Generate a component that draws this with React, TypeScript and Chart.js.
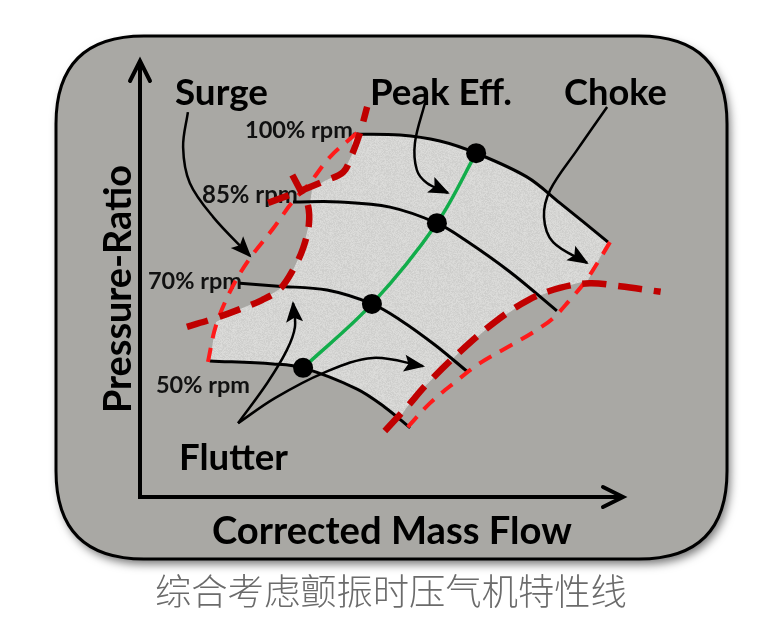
import { useEffect, useRef } from "react";
import { Chart, registerables } from "chart.js";

Chart.register(...registerables);

type P = { x: number; y: number };

// Axes: x = corrected mass flow, y = pressure ratio (both 0..100 of axis length)
const speedLabels = ["100% rpm", "85% rpm", "70% rpm", "50% rpm"];

const speed100: P[] = [
  { x: 44.1, y: 83.3 }, { x: 54.0, y: 83.1 }, { x: 62.3, y: 81.7 }, { x: 69.9, y: 78.9 },
  { x: 80.5, y: 73.4 }, { x: 87.4, y: 67.4 }, { x: 97.5, y: 58.3 },
];
const speed85: P[] = [
  { x: 31.6, y: 67.6 }, { x: 41.4, y: 67.6 }, { x: 51.9, y: 66.4 }, { x: 61.7, y: 62.7 },
  { x: 67.6, y: 58.8 }, { x: 77.0, y: 51.4 }, { x: 86.8, y: 42.4 },
];
const speed70: P[] = [
  { x: 20.5, y: 48.8 }, { x: 28.5, y: 48.1 }, { x: 38.7, y: 47.2 }, { x: 48.1, y: 44.0 },
  { x: 54.0, y: 40.3 }, { x: 61.3, y: 34.5 }, { x: 68.2, y: 28.2 },
];
const speed50: P[] = [
  { x: 14.2, y: 30.8 }, { x: 27.4, y: 30.1 }, { x: 33.7, y: 29.2 }, { x: 45.0, y: 24.3 },
  { x: 50.8, y: 20.1 }, { x: 56.1, y: 15.3 },
];

const peakEfficiency: P[] = [
  { x: 33.7, y: 29.2 }, { x: 48.1, y: 44.0 }, { x: 61.7, y: 62.7 }, { x: 69.9, y: 78.9 },
];

const surgeLine: P[] = [
  { x: 13.8, y: 30.6 }, { x: 15.5, y: 39.1 }, { x: 18.8, y: 47.7 }, { x: 22.6, y: 54.6 },
  { x: 27.2, y: 61.1 }, { x: 31.6, y: 67.8 }, { x: 35.1, y: 72.0 }, { x: 39.3, y: 78.0 },
  { x: 45.0, y: 83.6 },
];
const flutterSurgeLow: P[] = [
  { x: 9.4, y: 38.7 }, { x: 15.3, y: 40.7 }, { x: 20.5, y: 42.8 }, { x: 25.1, y: 44.9 },
  { x: 28.9, y: 47.5 }, { x: 31.8, y: 52.3 }, { x: 33.7, y: 56.9 }, { x: 34.9, y: 62.3 },
  { x: 34.7, y: 66.9 }, { x: 33.1, y: 70.4 }, { x: 30.3, y: 76.2 },
];
const flutterSurgeHigh: P[] = [
  { x: 26.4, y: 67.4 }, { x: 33.7, y: 70.4 }, { x: 38.3, y: 72.5 }, { x: 42.1, y: 74.5 },
  { x: 43.9, y: 78.5 }, { x: 45.6, y: 83.6 }, { x: 47.1, y: 89.6 },
];
const chokeLine: P[] = [
  { x: 97.9, y: 58.3 }, { x: 95.4, y: 53.7 }, { x: 92.7, y: 49.1 }, { x: 89.5, y: 44.9 },
  { x: 86.0, y: 40.7 }, { x: 82.2, y: 37.7 }, { x: 77.0, y: 34.3 }, { x: 70.7, y: 30.3 },
  { x: 65.5, y: 25.9 }, { x: 60.3, y: 21.1 }, { x: 55.6, y: 15.5 },
];
const flutterChoke: P[] = [
  { x: 50.8, y: 14.6 }, { x: 55.4, y: 20.1 }, { x: 59.4, y: 25.2 }, { x: 66.5, y: 32.9 },
  { x: 73.8, y: 39.8 }, { x: 80.8, y: 44.9 }, { x: 87.4, y: 47.7 }, { x: 93.7, y: 48.8 },
  { x: 100, y: 48.1 }, { x: 108.5, y: 46.8 },
];

const operatingRegion: P[] = [
  { x: 44.1, y: 83.3 }, { x: 54.0, y: 83.1 }, { x: 62.3, y: 81.7 }, { x: 69.9, y: 78.9 },
  { x: 80.5, y: 73.4 }, { x: 87.4, y: 67.4 }, { x: 97.5, y: 58.3 }, { x: 93.3, y: 49.5 },
  { x: 87.4, y: 47.7 }, { x: 80.8, y: 44.9 }, { x: 73.8, y: 39.8 }, { x: 66.5, y: 32.9 },
  { x: 59.4, y: 25.2 }, { x: 55.4, y: 20.1 }, { x: 54.0, y: 17.8 }, { x: 50.8, y: 20.1 },
  { x: 45.0, y: 24.3 }, { x: 33.7, y: 29.2 }, { x: 27.4, y: 30.1 }, { x: 14.2, y: 30.8 },
  { x: 15.5, y: 39.8 }, { x: 20.5, y: 42.8 }, { x: 25.1, y: 44.9 }, { x: 28.9, y: 47.5 },
  { x: 31.8, y: 52.3 }, { x: 33.7, y: 56.9 }, { x: 34.9, y: 62.3 }, { x: 35.1, y: 66.9 },
  { x: 35.6, y: 70.8 }, { x: 38.3, y: 72.5 }, { x: 42.1, y: 74.5 }, { x: 43.9, y: 78.5 },
  { x: 44.1, y: 83.3 },
];

const surgeArrow: P[] = [
  { x: 9.6, y: 88.4 }, { x: 8.6, y: 80.3 }, { x: 10.0, y: 72.0 }, { x: 14.9, y: 64.1 }, { x: 22.6, y: 55.1 },
];
const peakArrow: P[] = [
  { x: 59.2, y: 90.5 }, { x: 57.1, y: 81.3 }, { x: 57.5, y: 75.0 }, { x: 59.6, y: 72.0 }, { x: 64.0, y: 69.7 },
];
const chokeArrow: P[] = [
  { x: 97.3, y: 89.6 }, { x: 91.0, y: 79.6 }, { x: 85.4, y: 70.4 }, { x: 84.1, y: 64.1 },
  { x: 86.0, y: 58.3 }, { x: 93.1, y: 53.5 },
];
const flutterArrowUp: P[] = [
  { x: 20.1, y: 16.4 }, { x: 26.2, y: 25.7 }, { x: 30.3, y: 33.3 }, { x: 32.0, y: 38.7 }, { x: 31.6, y: 44.2 },
];
const flutterArrowRight: P[] = [
  { x: 20.1, y: 16.4 }, { x: 27.8, y: 22.2 }, { x: 37.9, y: 28.0 }, { x: 48.3, y: 31.5 }, { x: 58.8, y: 29.6 },
];

const annotationTexts = ["Surge", "Peak Eff.", "Choke", "Flutter"];
const xAxisTitle = "Corrected Mass Flow";
const yAxisTitle = "Pressure-Ratio";
const caption = "综合考虑颤振时压气机特性线";

const FONT = "Lato, 'Open Sans', sans-serif";

function makeNoise(): CanvasPattern | string {
  const c = document.createElement("canvas");
  c.width = 97;
  c.height = 97;
  const g = c.getContext("2d");
  if (!g) return "#d6d6d3";
  const img = g.createImageData(97, 97);
  for (let j = 0; j < 97; j++) {
    for (let i = 0; i < 97; i++) {
      const h = Math.sin(i * 12.9898 + j * 78.233) * 43758.5453;
      const f = h - Math.floor(h);
      const v = Math.round(213 + (f - 0.5) * 16);
      const k = (j * 97 + i) * 4;
      img.data[k] = v;
      img.data[k + 1] = v;
      img.data[k + 2] = v - 2;
      img.data[k + 3] = 255;
    }
  }
  g.putImageData(img, 0, 0);
  return g.createPattern(c, "repeat") || "#d6d6d3";
}

function fitText(
  ctx: CanvasRenderingContext2D, text: string, x0: number, x1: number, baseline: number,
  weight: string, family: string, color: string
) {
  ctx.font = `${weight} 40px ${family}`;
  const w = ctx.measureText(text).width;
  const size = (40 * (x1 - x0)) / w;
  ctx.font = `${weight} ${size}px ${family}`;
  ctx.fillStyle = color;
  ctx.textAlign = "left";
  ctx.textBaseline = "alphabetic";
  ctx.fillText(text, x0, baseline);
}

function roundRect(ctx: CanvasRenderingContext2D, x: number, y: number, w: number, h: number, r: number) {
  ctx.beginPath();
  ctx.moveTo(x + r, y);
  ctx.lineTo(x + w - r, y);
  ctx.quadraticCurveTo(x + w, y, x + w, y + r);
  ctx.lineTo(x + w, y + h - r);
  ctx.quadraticCurveTo(x + w, y + h, x + w - r, y + h);
  ctx.lineTo(x + r, y + h);
  ctx.quadraticCurveTo(x, y + h, x, y + h - r);
  ctx.lineTo(x, y + r);
  ctx.quadraticCurveTo(x, y, x + r, y);
  ctx.closePath();
}

const decorPlugin = {
  id: "decor",
  beforeDraw(chart: any) {
    const ctx: CanvasRenderingContext2D = chart.ctx;
    ctx.save();
    ctx.fillStyle = "#ffffff";
    ctx.fillRect(0, 0, chart.width, chart.height);
    ctx.shadowColor = "rgba(0,0,0,0.55)";
    ctx.shadowBlur = 10;
    ctx.shadowOffsetX = 3;
    ctx.shadowOffsetY = 5;
    roundRect(ctx, 56, 36, 671, 523, 88);
    ctx.fillStyle = "#a9a8a4";
    ctx.fill();
    ctx.shadowColor = "transparent";
    ctx.lineWidth = 3;
    ctx.strokeStyle = "#000";
    ctx.stroke();
    fitText(ctx, caption, 155, 627, 605, "300", "'Noto Sans CJK SC'", "#6b6b6b");
    ctx.restore();
  },
  beforeDatasetsDraw(chart: any) {
    const ctx: CanvasRenderingContext2D = chart.ctx;
    ctx.save();
    ctx.strokeStyle = "#000";
    ctx.lineWidth = 4;
    ctx.lineCap = "butt";
    ctx.beginPath();
    ctx.moveTo(140, 62);
    ctx.lineTo(140, 497);
    ctx.lineTo(621, 497);
    ctx.stroke();
    ctx.lineCap = "round";
    ctx.lineJoin = "miter";
    ctx.beginPath();
    ctx.moveTo(130, 81);
    ctx.lineTo(140, 61);
    ctx.lineTo(150, 81);
    ctx.stroke();
    ctx.beginPath();
    ctx.moveTo(603, 487);
    ctx.lineTo(623, 497);
    ctx.lineTo(603, 507);
    ctx.stroke();

    fitText(ctx, xAxisTitle, 212, 572, 544, "bold", FONT, "#000");
    ctx.save();
    ctx.translate(131, 413);
    ctx.rotate(-Math.PI / 2);
    fitText(ctx, yAxisTitle, 0, 248, 0, "bold", FONT, "#000");
    ctx.restore();

    fitText(ctx, annotationTexts[0], 175, 268, 105, "bold", FONT, "#000");
    fitText(ctx, annotationTexts[1], 370, 512, 105, "bold", FONT, "#000");
    fitText(ctx, annotationTexts[2], 564, 667, 105, "bold", FONT, "#000");
    fitText(ctx, annotationTexts[3], 179, 288, 470, "bold", FONT, "#000");

    fitText(ctx, speedLabels[0], 245, 353, 138, "bold", FONT, "#111");
    fitText(ctx, speedLabels[1], 202, 298, 203, "bold", FONT, "#111");
    fitText(ctx, speedLabels[2], 148, 242, 289, "bold", FONT, "#111");
    fitText(ctx, speedLabels[3], 156, 250, 393, "bold", FONT, "#111");
    ctx.restore();
  },
  afterDatasetsDraw(chart: any) {
    const ctx: CanvasRenderingContext2D = chart.ctx;
    ctx.save();
    chart.data.datasets.forEach((ds: any, i: number) => {
      if (!ds.arrow) return;
      const pts = chart.getDatasetMeta(i).data;
      const a = pts[pts.length - 2];
      const b = pts[pts.length - 1];
      const dx = b.x - a.x;
      const dy = b.y - a.y;
      const len = Math.hypot(dx, dy) || 1;
      const ux = dx / len;
      const uy = dy / len;
      const L = 19;
      const W = 8.5;
      ctx.beginPath();
      ctx.moveTo(b.x + ux * 2, b.y + uy * 2);
      ctx.lineTo(b.x - ux * L - uy * W, b.y - uy * L + ux * W);
      ctx.lineTo(b.x - ux * L * 0.78, b.y - uy * L * 0.78);
      ctx.lineTo(b.x - ux * L + uy * W, b.y - uy * L - ux * W);
      ctx.closePath();
      ctx.fillStyle = "#000";
      ctx.fill();
    });
    ctx.restore();
  },
};

function line(data: P[], color: string, width: number, order: number, extra: any = {}) {
  return {
    data,
    showLine: true,
    borderColor: color,
    borderWidth: width,
    backgroundColor: color,
    pointRadius: 0,
    pointHoverRadius: 0,
    tension: 0.35,
    fill: false,
    clip: false,
    order,
    ...extra,
  };
}

export default function App() {
  const ref = useRef<HTMLCanvasElement>(null);
  useEffect(() => {
    document.body.style.margin = "0";
    document.body.style.overflow = "hidden";
    const canvas = ref.current;
    if (!canvas) return;
    const noise = makeNoise();
    const brightRed = "#ff1a1a";
    const darkRed = "#c00000";
    const chart = new Chart(canvas, {
      type: "scatter",
      data: {
        datasets: [
          line(operatingRegion, "rgba(0,0,0,0)", 0, 20, { backgroundColor: noise, fill: "shape", tension: 0 }),
          line(speed100, "#000", 3, 10),
          line(speed85, "#000", 3, 10),
          line(speed70, "#000", 3, 10),
          line(speed50, "#000", 3, 10),
          line(peakEfficiency, "#12ad4b", 3.5, 9),
          line(surgeArrow, "#000", 2.5, 8, { arrow: true }),
          line(peakArrow, "#000", 2.5, 8, { arrow: true }),
          line(chokeArrow, "#000", 2.5, 8, { arrow: true }),
          line(flutterArrowUp, "#000", 2.5, 8, { arrow: true }),
          line(flutterArrowRight, "#000", 2.5, 8, { arrow: true }),
          line(surgeLine, brightRed, 4, 3, { borderDash: [14, 10] }),
          line(chokeLine, brightRed, 4, 3, { borderDash: [14, 10] }),
          line(flutterSurgeLow, darkRed, 6.5, 2, { borderDash: [22, 12] }),
          line(flutterSurgeHigh, darkRed, 6.5, 2, { borderDash: [22, 12] }),
          line(flutterChoke, darkRed, 6.5, 2, { borderDash: [24, 12] }),
          {
            data: peakEfficiency,
            showLine: false,
            pointRadius: 10,
            pointHoverRadius: 10,
            pointBackgroundColor: "#000",
            pointBorderWidth: 0,
            clip: false,
            order: 0,
          },
        ] as any,
      },
      options: {
        animation: false,
        responsive: false,
        maintainAspectRatio: false,
        devicePixelRatio: 1,
        layout: { padding: { left: 142, right: 112.2, top: 62, bottom: 139 } },
        elements: { line: { capBezierPoints: false } },
        scales: {
          x: { type: "linear", min: 0, max: 110, display: false },
          y: { type: "linear", min: 0, max: 100, display: false },
        },
        plugins: { legend: { display: false }, tooltip: { enabled: false }, title: { display: false } },
        events: [],
      } as any,
      plugins: [decorPlugin],
    });
    return () => chart.destroy();
  }, []);
  return (
    <div style={{ width: 780, height: 633 }}>
      <canvas ref={ref} width={780} height={633} style={{ display: "block", width: 780, height: 633 }} />
    </div>
  );
}
